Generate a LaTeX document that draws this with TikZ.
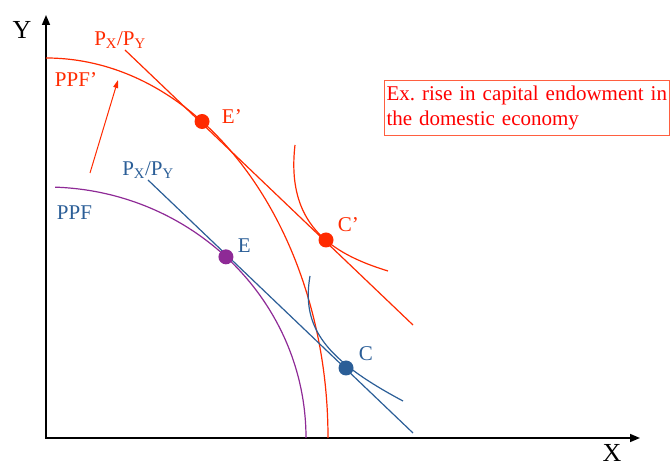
\documentclass[tikz,border=0pt]{standalone}
\usepackage{fontspec}
\setmainfont{Liberation Serif}
\usetikzlibrary{arrows.meta,positioning}
\definecolor{ppfred}{HTML}{FF2A00}
\definecolor{ppfblue}{HTML}{2B5E97}
\definecolor{ppfpurple}{HTML}{8E2A96}
\tikzset{
  axis/.style={draw=black,line width=1.5pt,{Triangle[length=10pt,width=8pt]}-{Triangle[length=10pt,width=8pt]}},
  curve/.style={line width=1.2pt},
  dot/.style={circle,inner sep=0pt,minimum size=15pt},
  lbl/.style={inner sep=1pt,font=\fontsize{21}{25}\selectfont},
  big/.style={inner sep=1pt,font=\fontsize{26}{30}\selectfont},
  shiftarrow/.style={-{Triangle[length=8pt,width=5pt]},draw=ppfred,line width=1pt},
  note/.style={draw=ppfred!75,line width=1pt,text=red,align=left,inner xsep=2pt,text width=281pt,minimum height=55pt,font=\fontsize{21}{25}\selectfont\frenchspacing},
}
\begin{document}
\begin{tikzpicture}[x=1pt,y=1pt]
\useasboundingbox (-46,-30) rectangle (626,438);
% axes
\coordinate (O) at (0,0);
\coordinate (ytip) at (0,423);
\coordinate (xtip) at (594,0);
\draw[axis] (ytip) -- (O) -- (xtip);
\node[big] (ylab) at (-24,408) {Y};
\node[big] (xlab) at (566,-15) {X};
% frontiers
\draw[curve,ppfpurple] (88:260 and 251) arc[start angle=88,end angle=0,x radius=260,y radius=251];
\draw[curve,ppfred] (90:282 and 380) arc[start angle=90,end angle=0,x radius=282,y radius=380];
% price lines
\coordinate (pr1) at (79,388);
\coordinate (pr2) at (367,113);
\coordinate (pb1) at (102,258);
\coordinate (pb2) at (367,5);
\draw[curve,ppfred] (pr1) -- (pr2);
\draw[curve,ppfblue] (pb1) -- (pb2);
% indifference curves
\coordinate (icr1) at (249,293);
\coordinate (icr2) at (342,167);
\coordinate (icb1) at (264,162);
\coordinate (icb2) at (357,37);
\draw[curve,ppfred] (icr1) .. controls (240,215) and (283,185) .. (icr2);
\draw[curve,ppfblue] (icb1) .. controls (255,110) and (280,78) .. (icb2);
% points
\node[dot,fill=ppfpurple] (E) at (46.2:260 and 251) {};
\node[dot,fill=ppfred] (Ep) at (56.4:282 and 380) {};
\node[dot,fill=ppfred] (Cp) at (280,198) {};
\node[dot,fill=ppfblue] (C) at (300,70) {};
\node[lbl,text=ppfred,right=11pt of Ep,yshift=5pt] (Eplab) {E’};
\node[lbl,text=ppfblue,right=3pt of E,yshift=11pt] (Elab) {E};
\node[lbl,text=ppfred,right=3pt of Cp,yshift=15pt] (Cplab) {C’};
\node[lbl,text=ppfblue,right=4pt of C,yshift=14pt] (Clab) {C};
% labels
\node[lbl,text=ppfred] (prlab) at (74,398) {P\textsubscript{X}/P\textsubscript{Y}};
\node[lbl,text=ppfblue] (pblab) at (102,268) {P\textsubscript{X}/P\textsubscript{Y}};
\node[lbl,text=ppfred] (ppfplab) at (30,358) {PPF’};
\node[lbl,text=ppfblue] (ppflab) at (28.5,225) {PPF};
% outward shift
\coordinate (a1) at (44,265);
\coordinate (a2) at (72,358);
\draw[shiftarrow] (a1) -- (a2);
\node[note,anchor=north west] (box) at (338,358) {\mbox{Ex. rise in capital endowment in}\\the domestic economy};
\end{tikzpicture}
\end{document}
